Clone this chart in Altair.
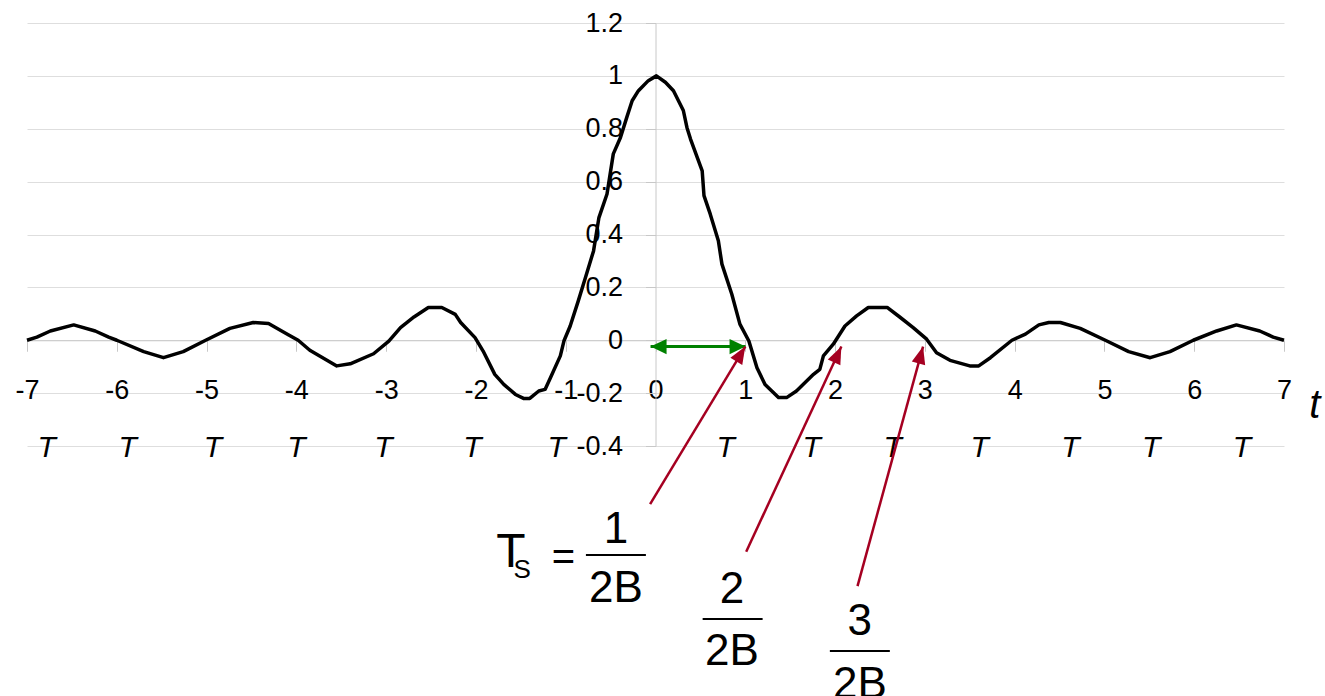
import math
import altair as alt
import pandas as pd

# Pulse samples: time in units of T, normalised amplitude
t_values = [
    -7.00, -6.89, -6.74, -6.48, -6.24, -6.09, -6.00, -5.70, -5.48, -5.26,
    -5.01, -4.74, -4.48, -4.31, -4.10, -3.98, -3.85, -3.55, -3.40, -3.14,
    -2.97, -2.84, -2.69, -2.53, -2.38, -2.23, -2.17, -2.01, -1.92, -1.79,
    -1.69, -1.56, -1.47, -1.40, -1.30, -1.23, -1.17, -1.06, -1.02, -0.95,
    -0.86, -0.78, -0.69, -0.63, -0.54, -0.47, -0.39, -0.32, -0.26, -0.19,
    -0.08, 0.01, 0.11, 0.20, 0.31, 0.35, 0.39, 0.52, 0.54, 0.61,
    0.70, 0.74, 0.85, 0.94, 1.04, 1.13, 1.22, 1.37, 1.46, 1.57,
    1.76, 1.83, 1.87, 1.98, 2.11, 2.24, 2.37, 2.58, 2.72, 2.87,
    3.02, 3.13, 3.28, 3.50, 3.60, 3.73, 3.97, 4.12, 4.27, 4.38,
    4.51, 4.73, 5.01, 5.27, 5.51, 5.73, 5.99, 6.25, 6.47, 6.73,
    6.88, 7.00,
]
amp_values = [
    0.000, 0.012, 0.035, 0.058, 0.035, 0.012, 0.000, -0.043, -0.066, -0.043,
    0.000, 0.045, 0.067, 0.063, 0.023, 0.000, -0.038, -0.097, -0.089, -0.051,
    -0.003, 0.048, 0.088, 0.124, 0.124, 0.098, 0.067, 0.010, -0.041, -0.129,
    -0.167, -0.205, -0.220, -0.220, -0.192, -0.186, -0.142, -0.059, -0.003, 0.054,
    0.149, 0.237, 0.338, 0.464, 0.553, 0.705, 0.767, 0.843, 0.906, 0.944,
    0.982, 1.000, 0.976, 0.944, 0.869, 0.805, 0.761, 0.641, 0.547, 0.477,
    0.376, 0.288, 0.174, 0.061, -0.003, -0.104, -0.167, -0.217, -0.217, -0.192,
    -0.129, -0.110, -0.059, -0.015, 0.054, 0.092, 0.124, 0.124, 0.088, 0.048,
    0.004, -0.047, -0.076, -0.097, -0.097, -0.066, 0.000, 0.023, 0.058, 0.067,
    0.067, 0.045, 0.000, -0.043, -0.066, -0.043, 0.000, 0.035, 0.058, 0.035,
    0.012, 0.000,
]

x_ticks = list(range(-7, 8))
y_ticks = [-0.4, -0.2, 0, 0.2, 0.4, 0.6, 0.8, 1, 1.2]

# Row of italic "T" unit marks below the time axis
t_row_x = [-6.78, -5.88, -4.93, -4.00, -3.03, -2.04, -1.10,
           0.78, 1.74, 2.64, 3.61, 4.62, 5.52, 6.53]
t_row_y = -0.442

# Axis name "t" at the right end of the time axis
axis_name_x = 7.28
axis_name_y = -0.294

# Green double arrow: one sample interval from 0 to T
span_x0, span_x1, span_y = -0.055, 1.003, -0.024

# Red pointers from the fraction labels to the zero crossings
ptr_tail_x = [-0.06, 1.01, 2.25]
ptr_tail_y = [-0.62, -0.80, -0.93]
ptr_head_x = [1.00, 2.07, 2.98]
ptr_head_y = [-0.024, -0.024, -0.024]

# "T_S =" part of the sampling-interval formula
eq_text = ["T", "S", "="]
eq_x = [-1.61, -1.484, -1.026]
eq_y = [-0.858, -0.899, -0.869]
eq_size = [48, 26, 40]

# Fractions 1/2B, 2/2B, 3/2B
frac_text = ["1", "2B", "2", "2B", "3", "2B"]
frac_x = [-0.441, -0.441, 0.851, 0.851, 2.276, 2.276]
frac_y = [-0.767, -0.990, -0.994, -1.228, -1.115, -1.353]
bar_x0 = [-0.775, 0.525, 1.942]
bar_x1 = [-0.107, 1.193, 2.610]
bar_y = [-0.812, -1.054, -1.175]

W, H = 1257, 423
X_DOM = [-7, 7]
Y_DOM = [-0.4, 1.2]
FONT = "Liberation Sans"
RED = "#A50021"
GREEN = "#008000"
AXIS_GREY = "#c8c8c8"
GRID_GREY = "#dedede"

px_per_x = W / (X_DOM[1] - X_DOM[0])
px_per_y = H / (Y_DOM[1] - Y_DOM[0])

xs = alt.Scale(domain=X_DOM, nice=False, zero=False)
ys = alt.Scale(domain=Y_DOM, nice=False, zero=False)

# Both axes cross at the origin, inside the plot
x_axis = alt.Axis(
    values=x_ticks, title=None, grid=False,
    offset=-(0 - Y_DOM[0]) * px_per_y,
    domainColor=AXIS_GREY, tickColor=AXIS_GREY, tickSize=11,
    labelFont=FONT, labelFontSize=27, labelColor="black",
    labelBaseline="alphabetic", labelPadding=47,
    labelExpr="'' + datum.value", labelOverlap=False, labelFlush=False)
y_axis = alt.Axis(
    values=y_ticks, title=None, grid=True, gridColor=GRID_GREY,
    offset=-(0 - X_DOM[0]) * px_per_x,
    domainColor=AXIS_GREY, tickColor=AXIS_GREY, tickSize=10,
    labelFont=FONT, labelFontSize=27, labelColor="black",
    labelPadding=23, labelExpr="'' + datum.value",
    labelOverlap=False, labelFlush=False)


def X(field):
    return alt.X(field, scale=xs, axis=x_axis)


def Y(field):
    return alt.Y(field, scale=ys, axis=y_axis)


# Arrowhead with its tip at the symbol origin, pointing up at angle 0
HEAD = "M0,0L-0.8,2L0.8,2Z"

curve_df = pd.DataFrame({"x": t_values, "y": amp_values,
                         "i": list(range(len(t_values)))})

curve = alt.Chart(curve_df).mark_line(color="black", strokeWidth=3.5,
                                      strokeJoin="round").encode(
    x=X("x:Q"), y=Y("y:Q"), order="i:Q",
)

t_row = alt.Chart(pd.DataFrame({"x": t_row_x, "y": [t_row_y] * len(t_row_x),
                                "s": ["T"] * len(t_row_x)})).mark_text(
    font=FONT, fontSize=30, fontStyle="italic", align="center",
    baseline="alphabetic", color="black").encode(
    x=X("x:Q"), y=Y("y:Q"), text="s:N",
)

axis_name = alt.Chart(pd.DataFrame({"x": [axis_name_x], "y": [axis_name_y],
                                    "s": ["t"]})).mark_text(
    font=FONT, fontSize=40, fontStyle="italic", align="left",
    baseline="alphabetic", color="black").encode(
    x=X("x:Q"), y=Y("y:Q"), text="s:N",
)

# Green span arrow
span_df = pd.DataFrame({"x": [span_x0], "x2": [span_x1], "y": [span_y]})
span_line = alt.Chart(span_df).mark_rule(color=GREEN, strokeWidth=3).encode(
    x=X("x:Q"), x2="x2:Q", y=Y("y:Q"),
)
span_heads_df = pd.DataFrame({"x": [span_x0, span_x1], "y": [span_y, span_y],
                              "ang": [270, 90]})
span_heads = alt.Chart(span_heads_df).mark_point(
    shape="M0,0L-0.95,2L0.95,2Z", filled=True, size=256, color=GREEN,
    opacity=1, strokeWidth=0).encode(
    x=X("x:Q"), y=Y("y:Q"), angle=alt.Angle("ang:Q", scale=None),
)

# Red pointer arrows
ptr_ang = [
    math.degrees(math.atan2((hx - tx) * px_per_x, (hy - ty) * px_per_y))
    for tx, ty, hx, hy in zip(ptr_tail_x, ptr_tail_y, ptr_head_x, ptr_head_y)
]
ptr_df = pd.DataFrame({"x": ptr_tail_x, "y": ptr_tail_y,
                       "x2": ptr_head_x, "y2": ptr_head_y, "ang": ptr_ang})
ptr_lines = alt.Chart(ptr_df).mark_rule(color=RED, strokeWidth=2.5).encode(
    x=X("x:Q"), x2="x2:Q", y=Y("y:Q"), y2="y2:Q",
)
ptr_heads = alt.Chart(ptr_df).mark_point(
    shape=HEAD, filled=True, size=300, color=RED, opacity=1,
    strokeWidth=0).encode(
    x=X("x2:Q"), y=Y("y2:Q"), angle=alt.Angle("ang:Q", scale=None),
)

# Formula texts
eq = alt.Chart(pd.DataFrame({"x": eq_x, "y": eq_y, "s": eq_text,
                             "fs": eq_size})).mark_text(
    font=FONT, align="center", baseline="alphabetic", color="black").encode(
    x=X("x:Q"), y=Y("y:Q"), text="s:N",
    size=alt.Size("fs:Q", scale=None, legend=None),
)

frac = alt.Chart(pd.DataFrame({"x": frac_x, "y": frac_y,
                               "s": frac_text})).mark_text(
    font=FONT, fontSize=44, align="center", baseline="alphabetic",
    color="black").encode(
    x=X("x:Q"), y=Y("y:Q"), text="s:N",
)

bars = alt.Chart(pd.DataFrame({"x": bar_x0, "x2": bar_x1,
                               "y": bar_y})).mark_rule(
    color="black", strokeWidth=2).encode(
    x=X("x:Q"), x2="x2:Q", y=Y("y:Q"),
)

chart = alt.layer(
    curve, t_row, axis_name, span_line, span_heads,
    ptr_lines, ptr_heads, eq, frac, bars,
).properties(
    width=W, height=H, autosize="none",
    padding={"left": 27, "top": 23, "right": 41, "bottom": 250},
    background="white",
).configure_view(stroke=None)

chart.save("out.html", embed_options={"renderer": "svg", "actions": False})
